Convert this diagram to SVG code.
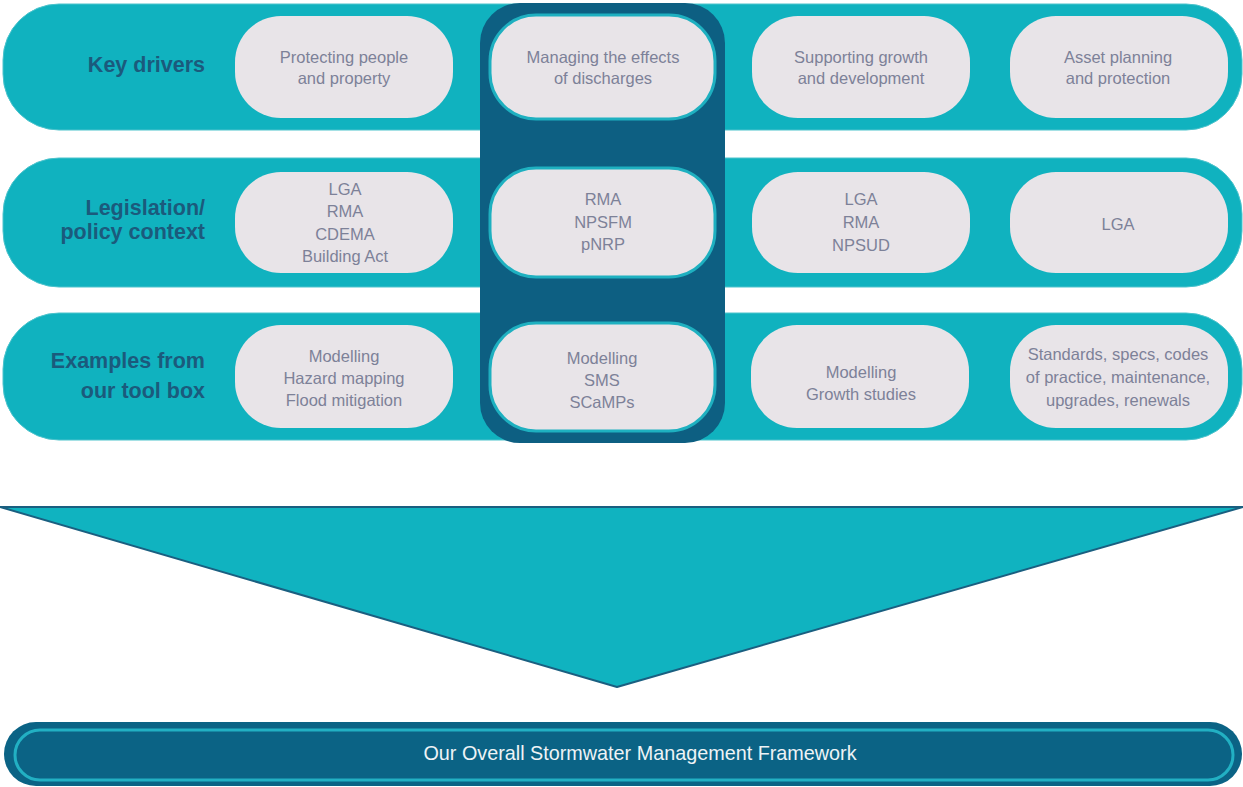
<svg xmlns="http://www.w3.org/2000/svg" width="1243" height="787" viewBox="0 0 1243 787">
<style>
.band{fill:#10b2bf;stroke:#4cc3cc;stroke-width:1}
.pill{fill:#e8e4e8}
.mpill{fill:#e8e4e8;stroke:#1eb0c0;stroke-width:3}
.lbl{font-family:"Liberation Sans",Arial,sans-serif;font-weight:bold;font-size:21.5px;fill:#1b5a7c;text-anchor:end}
.pt{font-family:"Liberation Sans",Arial,sans-serif;font-size:16.5px;fill:#7d8198;text-anchor:middle}
.ft{font-family:"Liberation Sans",Arial,sans-serif;font-size:19.8px;fill:#eef3f6;text-anchor:middle}
</style>
<rect width="1243" height="787" fill="#ffffff"/>
<g id="bands">
<rect class="band" x="3" y="4" width="1239" height="126" rx="56"/>
<rect class="band" x="3" y="158" width="1239" height="129" rx="56"/>
<rect class="band" x="3" y="313" width="1239" height="127" rx="56"/>
</g>
<g id="focus-column"><rect x="480" y="3" width="245" height="440" rx="40" fill="#0d5f82"/></g>
<g id="label-row1"><text class="lbl" x="205" y="72">Key drivers</text></g>
<g id="label-row2"><text class="lbl" x="205" y="215">Legislation/</text><text class="lbl" x="205" y="239">policy context</text></g>
<g id="label-row3"><text class="lbl" x="205" y="368">Examples from</text><text class="lbl" x="205" y="398">our tool box</text></g>

<g id="r1c1"><rect class="pill" x="235" y="16" width="218" height="102" rx="46"/><text class="pt"><tspan x="344" y="63">Protecting people</tspan><tspan x="344" y="84">and property</tspan></text></g>
<g id="r1c2"><rect class="mpill" x="490" y="15" width="225" height="104" rx="46"/><text class="pt"><tspan x="603" y="63">Managing the effects</tspan><tspan x="603" y="84">of discharges</tspan></text></g>
<g id="r1c3"><rect class="pill" x="752" y="16" width="218" height="102" rx="46"/><text class="pt"><tspan x="861" y="63">Supporting growth</tspan><tspan x="861" y="84">and development</tspan></text></g>
<g id="r1c4"><rect class="pill" x="1010" y="16" width="218" height="102" rx="46"/><text class="pt"><tspan x="1118" y="63">Asset planning</tspan><tspan x="1118" y="84">and protection</tspan></text></g>

<g id="r2c1"><rect class="pill" x="235" y="172" width="218" height="101" rx="46"/><text class="pt"><tspan x="345" y="195">LGA</tspan><tspan x="345" y="217">RMA</tspan><tspan x="345" y="240">CDEMA</tspan><tspan x="345" y="262">Building Act</tspan></text></g>
<g id="r2c2"><rect class="mpill" x="490" y="168" width="225" height="109" rx="46"/><text class="pt"><tspan x="603" y="205">RMA</tspan><tspan x="603" y="228">NPSFM</tspan><tspan x="603" y="250">pNRP</tspan></text></g>
<g id="r2c3"><rect class="pill" x="752" y="172" width="218" height="101" rx="46"/><text class="pt"><tspan x="861" y="205">LGA</tspan><tspan x="861" y="228">RMA</tspan><tspan x="861" y="251">NPSUD</tspan></text></g>
<g id="r2c4"><rect class="pill" x="1010" y="172" width="218" height="101" rx="46"/><text class="pt" x="1118" y="230">LGA</text></g>

<g id="r3c1"><rect class="pill" x="235" y="325" width="218" height="103" rx="46"/><text class="pt"><tspan x="344" y="362">Modelling</tspan><tspan x="344" y="384">Hazard mapping</tspan><tspan x="344" y="406">Flood mitigation</tspan></text></g>
<g id="r3c2"><rect class="mpill" x="490" y="323" width="225" height="108" rx="46"/><text class="pt"><tspan x="602" y="364">Modelling</tspan><tspan x="602" y="386">SMS</tspan><tspan x="602" y="408">SCaMPs</tspan></text></g>
<g id="r3c3"><rect class="pill" x="751" y="325" width="218" height="103" rx="46"/><text class="pt"><tspan x="861" y="378">Modelling</tspan><tspan x="861" y="400">Growth studies</tspan></text></g>
<g id="r3c4"><rect class="pill" x="1010" y="325" width="218" height="103" rx="46"/><text class="pt"><tspan x="1118" y="360">Standards, specs, codes</tspan><tspan x="1118" y="383">of practice, maintenance,</tspan><tspan x="1118" y="406">upgrades, renewals</tspan></text></g>

<g id="connectors"><polygon points="0,507 1243,507 617,687" fill="#10b3c0" stroke="#1a5f80" stroke-width="2" stroke-linejoin="round"/></g>

<g id="framework"><rect x="4" y="722" width="1238" height="64" rx="32" fill="#0b6385"/><rect x="15" y="730" width="1218" height="50" rx="25" fill="none" stroke="#22b0c3" stroke-width="3"/><text class="ft" x="640" y="760">Our Overall Stormwater Management Framework</text></g>
</svg>
